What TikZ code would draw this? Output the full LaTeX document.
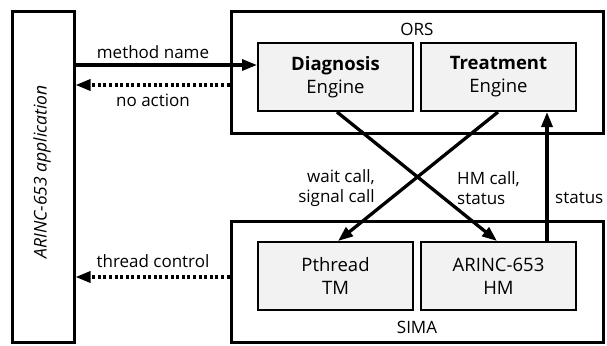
\documentclass[tikz,border=0pt]{standalone}
\usepackage{fontspec}
\setmainfont{Open Sans}
\usetikzlibrary{arrows.meta}
\definecolor{boxfill}{HTML}{F2F2F2}
\begin{document}
\begin{tikzpicture}[x=1pt,y=-1pt,
  outer/.style={draw,line width=3pt},
  inner/.style={draw,line width=2pt,fill=boxfill,align=center,font=\fontsize{18.5}{23}\selectfont},
  lab/.style={font=\fontsize{17}{19.5}\selectfont,inner sep=0pt},
  arr/.style={line width=3.3pt,-{Triangle[length=15pt,width=11pt]}},
  darr/.style={arr,dash pattern=on 3pt off 2.6pt}]
\useasboundingbox (0,0) rectangle (607,345);
\node[outer,minimum width=62pt,minimum height=330pt,inner sep=0pt] (app) at (43,177) {};
\node[rotate=90,font=\fontsize{17.5}{20}\selectfont\itshape] at (42,172) {ARINC-653 application};
\node[outer,minimum width=372pt,minimum height=121pt] (ors) at (417,72.5) {};
\node[outer,minimum width=372pt,minimum height=121pt] (sima) at (417,281.5) {};
\node[lab] at (417,29) {ORS};
\node[lab] at (417,327) {SIMA};
\node[inner,minimum width=155pt,minimum height=68pt] (diag) at (335.5,77) {\textbf{Diagnosis}\\Engine};
\node[inner,minimum width=155pt,minimum height=68pt] (treat) at (498.5,77) {\textbf{Treatment}\\Engine};
\node[inner,minimum width=155pt,minimum height=68pt] (pth) at (335.5,276) {Pthread\\TM};
\node[inner,minimum width=155pt,minimum height=68pt] (hm) at (498.5,276) {ARINC-653\\HM};
\coordinate (a1) at (app.east |- 0,65);
\coordinate (d1) at (diag.west |- 0,65);
\draw[arr] (a1) -- (d1);
\coordinate (a2) at (app.east |- 0,85);
\coordinate (o2) at (ors.west |- 0,85);
\draw[darr] (o2) -- (a2);
\coordinate (a3) at (app.east |- 0,277);
\coordinate (s3) at (sima.west |- 0,277);
\draw[darr] (s3) -- (a3);
\node[lab] at (153,52) {method name};
\node[lab] at (153,100) {no action};
\node[lab] at (153,261) {thread control};
\draw[arr] ([xshift=1.5pt]diag.south) -- ([xshift=-1.5pt]hm.north);
\draw[arr] ([xshift=-0.5pt]treat.south) -- ([xshift=2.5pt]pth.north);
\coordinate (h2) at (547,242);
\coordinate (t2) at (547,111);
\draw[arr] (hm.north -| h2) -- (treat.south -| t2);
\node[lab,align=right,anchor=east] at (375,188) {wait call,\\signal call};
\node[lab,align=left,anchor=west] at (457,188) {HM call,\\status};
\node[lab,anchor=west] at (555,198) {status};
\end{tikzpicture}
\end{document}
